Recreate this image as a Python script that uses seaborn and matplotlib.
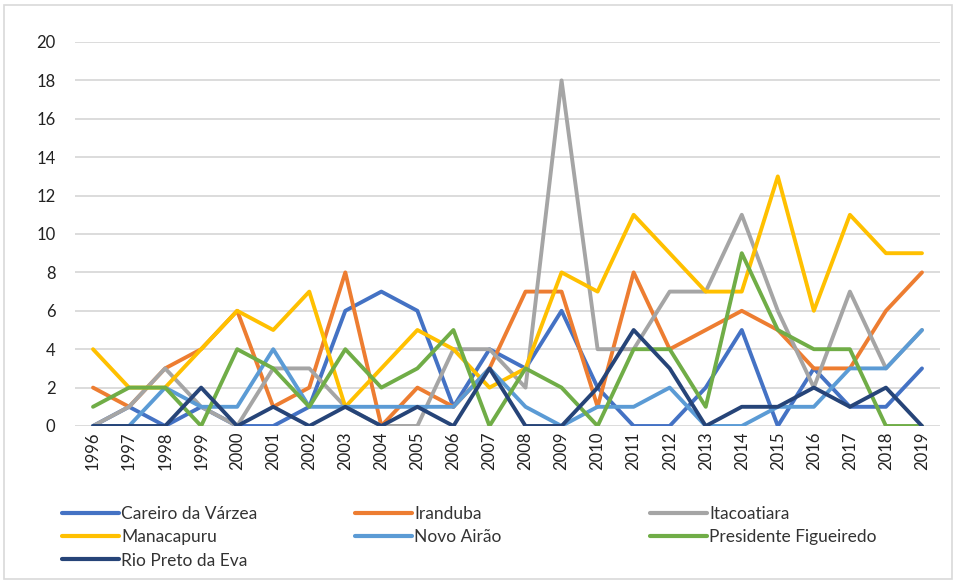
import matplotlib
matplotlib.use("Agg")
import matplotlib.pyplot as plt
from matplotlib.patches import Rectangle
import seaborn as sns
import pandas as pd

years = list(range(1996, 2020))

careiro_da_varzea = [0, 1, 0, 1, 0, 0, 1, 6, 7, 6, 1, 4, 3, 6, 2, 0, 0, 2, 5, 0, 3, 1, 1, 3]
iranduba = [2, 1, 3, 4, 6, 1, 2, 8, 0, 2, 1, 3, 7, 7, 1, 8, 4, 5, 6, 5, 3, 3, 6, 8]
itacoatiara = [0, 1, 3, 1, 0, 3, 3, 1, 0, 0, 4, 4, 2, 18, 4, 4, 7, 7, 11, 6, 2, 7, 3, 5]
manacapuru = [4, 2, 2, 4, 6, 5, 7, 1, 3, 5, 4, 2, 3, 8, 7, 11, 9, 7, 7, 13, 6, 11, 9, 9]
novo_airao = [0, 0, 2, 1, 1, 4, 1, 1, 1, 1, 1, 3, 1, 0, 1, 1, 2, 0, 0, 1, 1, 3, 3, 5]
presidente_figueiredo = [1, 2, 2, 0, 4, 3, 1, 4, 2, 3, 5, 0, 3, 2, 0, 4, 4, 1, 9, 5, 4, 4, 0, 0]
rio_preto_da_eva = [0, 0, 0, 2, 0, 1, 0, 1, 0, 1, 0, 3, 0, 0, 2, 5, 3, 0, 1, 1, 2, 1, 2, 0]

series_names = ["Careiro da Várzea", "Iranduba", "Itacoatiara", "Manacapuru",
                "Novo Airão", "Presidente Figueiredo", "Rio Preto da Eva"]
series_values = [careiro_da_varzea, iranduba, itacoatiara, manacapuru,
                 novo_airao, presidente_figueiredo, rio_preto_da_eva]
colors = ["#4472C4", "#ED7D31", "#A5A5A5", "#FFC000", "#5B9BD5", "#70AD47", "#264478"]

df = pd.DataFrame(
    [(y, name, v) for name, vals in zip(series_names, series_values)
     for y, v in zip(years, vals)],
    columns=["Ano", "Município", "Valor"],
)

sns.set_style("white")
plt.rcParams["font.family"] = ["Lato", "DejaVu Sans"]

fig = plt.figure(figsize=(9.58, 5.83), dpi=100)
ax = fig.add_axes([75 / 958, 1 - 426 / 583, 865 / 958, 384 / 583])

sns.lineplot(data=df, x="Ano", y="Valor", hue="Município", hue_order=series_names,
             palette=colors, linewidth=2.8, ax=ax, legend=True)

ax.set_xlim(1995.5, 2019.5)
ax.set_ylim(0, 20)
ax.set_yticks(range(0, 21, 2))
ax.set_xticks(years)
ax.set_xticklabels([str(y) for y in years], rotation=90)
ax.tick_params(axis="both", length=0, labelsize=12, colors="#222222")
ax.tick_params(axis="y", pad=14)
ax.tick_params(axis="x", pad=4)
ax.yaxis.grid(True, color="#D9D9D9", linewidth=1.3)
ax.set_axisbelow(True)
for s in ax.spines.values():
    s.set_visible(False)
ax.set_xlabel("")
ax.set_ylabel("")

handles, labels = ax.get_legend_handles_labels()
ax.get_legend().remove()
lookup = dict(zip(labels, handles))

columns = [
    (["Careiro da Várzea", "Manacapuru", "Rio Preto da Eva"], 55),
    (["Iranduba", "Novo Airão"], 348),
    (["Itacoatiara", "Presidente Figueiredo"], 643),
]
for names, xpix in columns:
    leg = fig.legend([lookup[n] for n in names], names, loc="upper left",
                     bbox_to_anchor=(xpix / 958, 1 - 499 / 583), ncol=1,
                     frameon=False, fontsize=12.5, handlelength=3.3,
                     handletextpad=0.1, labelspacing=0.42, borderaxespad=0,
                     labelcolor="#333333")
    for line in leg.get_lines():
        line.set_linewidth(3)

fig.patches.append(Rectangle((4 / 958, 4 / 583), 948 / 958, 574 / 583,
                             transform=fig.transFigure, fill=False,
                             edgecolor="#D9D9D9", linewidth=1.2))

fig.savefig("out.png", dpi=100)
